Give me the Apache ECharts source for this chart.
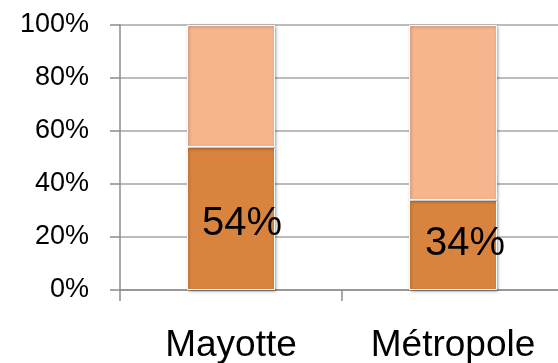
<!DOCTYPE html>
<html><head><meta charset="utf-8">
<script src="https://cdn.jsdelivr.net/npm/echarts@6/dist/echarts.min.js"></script>
<style>html,body{margin:0;padding:0;background:#fff}#c{width:558px;height:363px}</style>
</head><body><div id="c"></div>
<script>
var categories = ['Mayotte', 'Métropole'];
var lowerValues = [54, 34];
var upperValues = [46, 66];
var yTicks = [0, 20, 40, 60, 80, 100];

var chart = echarts.init(document.getElementById('c'), null, {renderer: 'canvas'});
var font = 'Liberation Sans';
var labelOffsets = [[11, 6], [12, -1]];
var barStyle = function (color) {
  return {color: color, borderColor: '#ffffff', borderWidth: 1,
    shadowBlur: 3, shadowColor: 'rgba(0,0,0,0.35)', shadowOffsetX: 1, shadowOffsetY: 1};
};
chart.setOption({
  animation: false,
  grid: {left: 120, top: 25, width: 444, height: 265, outerBoundsMode: 'none', containLabel: false},
  xAxis: {
    type: 'category', data: categories,
    axisLine: {lineStyle: {color: '#8c8c8c', width: 1.5}},
    axisTick: {show: true, length: 11, lineStyle: {color: '#8c8c8c', width: 1.5}},
    axisLabel: {fontFamily: font, fontSize: 37, color: '#000', margin: 37, interval: 0, hideOverlap: false}
  },
  yAxis: {
    type: 'value', min: 0, max: 100, interval: 20,
    axisLine: {show: true, lineStyle: {color: '#8c8c8c', width: 1.5}},
    axisTick: {show: true, length: 10, inside: false, lineStyle: {color: '#8c8c8c', width: 1.5}},
    splitLine: {lineStyle: {color: '#a6a6a6', width: 1.5}},
    axisLabel: {fontFamily: font, fontSize: 27, color: '#000', margin: 31,
      formatter: function (v) { return yTicks.indexOf(v) >= 0 ? v + '%' : ''; }}
  },
  series: [
    {type: 'bar', stack: 's', barWidth: 88,
      data: lowerValues.map(function (v, i) { return {value: v, label: {offset: labelOffsets[i]}}; }),
      itemStyle: barStyle('#d8843f'),
      label: {show: true, position: 'inside', fontFamily: font, fontSize: 40, color: '#000',
        formatter: function (p) { return p.value + '%'; }}},
    {type: 'bar', stack: 's', data: upperValues, barWidth: 88,
      itemStyle: barStyle('#f7b58e')}
  ]
});
</script></body></html>
